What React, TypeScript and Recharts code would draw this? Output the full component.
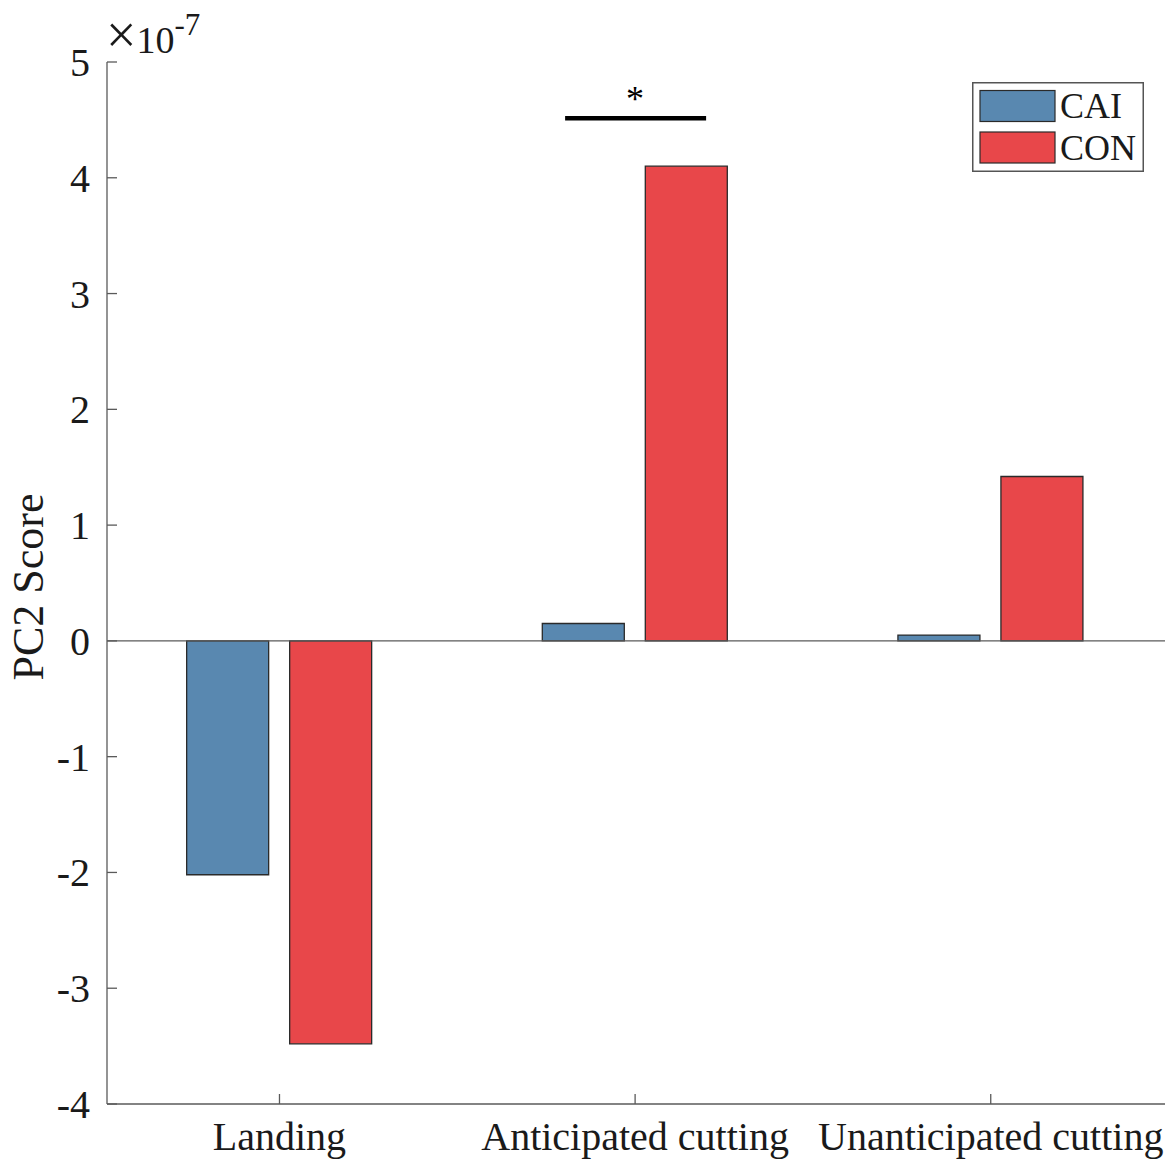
import React from 'react';
import { BarChart, Bar, XAxis, YAxis, ReferenceLine, ReferenceDot, Legend } from 'recharts';

const categories = ['Landing', 'Anticipated cutting', 'Unanticipated cutting'];
const categoryPositions = [1, 2, 3];
const caiValues = [-2.02, 0.15, 0.05];
const conValues = [-3.48, 4.1, 1.42];
const yTicks = [-4, -3, -2, -1, 0, 1, 2, 3, 4, 5];
const seriesNames = ['CAI', 'CON'];
const significance = { position: 2, y: 4.515, label: '*' };

const data = categories.map((c, i) => ({
  pos: categoryPositions[i],
  name: c,
  CAI: caiValues[i],
  CON: conValues[i],
}));

const FONT = "'Times New Roman', 'Liberation Serif', serif";
const AXIS = '#5a5a5a';
const TEXT = '#1a1a1a';
const BLUE = '#5988B0';
const RED = '#E8474A';
const BAR_STROKE = '#2a2a2a';

const YTick = (props: any) => {
  const { x, y, payload } = props;
  return (
    <g>
      <line x1={x} x2={x + 10} y1={y} y2={y} stroke={AXIS} strokeWidth={1.3} />
      <text x={x - 17} y={y} dy="0.35em" textAnchor="end" fontSize={40} fontFamily={FONT} fill={TEXT}>
        {payload.value}
      </text>
      {payload.value === yTicks[yTicks.length - 1] && (
        <text x={x - 1} y={y - 9} fontFamily={FONT} fill={TEXT}>
          <tspan fontSize={54}>×</tspan>
          <tspan fontSize={38}>10</tspan>
          <tspan fontSize={31} dy={-18}>-7</tspan>
        </text>
      )}
    </g>
  );
};

const XTick = (props: any) => {
  const { x, y, payload } = props;
  const idx = categoryPositions.indexOf(payload.value);
  return (
    <g>
      <line x1={x} x2={x} y1={y} y2={y - 10} stroke={AXIS} strokeWidth={1.3} />
      <text x={x} y={y + 46} textAnchor="middle" fontSize={40} fontFamily={FONT} fill={TEXT}>
        {categories[idx]}
      </text>
    </g>
  );
};

const SigShape = (p: any) => {
  const { cx, cy } = p;
  return (
    <g>
      <line x1={cx - 70} x2={cx + 71} y1={cy} y2={cy} stroke="#000" strokeWidth={4.5} />
      <text x={cx} y={cy - 7} textAnchor="middle" fontSize={36} fontFamily={FONT} fill="#000">
        {significance.label}
      </text>
    </g>
  );
};

const LegendContent = (props: any) => {
  const payload = props.payload || [];
  return (
    <svg width={172} height={90} style={{ display: 'block' }}>
      <rect x={0.75} y={0.75} width={170.5} height={88.5} fill="#fff" stroke="#555" strokeWidth={1.5} />
      {payload.map((item: any, i: number) => (
        <g key={item.value}>
          <rect x={8} y={8.5 + i * 41.5} width={75} height={31} fill={item.color} stroke={BAR_STROKE} strokeWidth={1.2} />
          <text x={88} y={36 + i * 42} fontSize={36} fontFamily={FONT} fill={TEXT}>
            {item.value}
          </text>
        </g>
      ))}
    </svg>
  );
};

const YLabel = (props: any) => {
  const vb = props.viewBox || { x: 0, y: 62, width: 107, height: 1042 };
  const cx = 28;
  const cy = vb.y + vb.height / 2 + 4;
  return (
    <text
      x={cx}
      y={cy}
      transform={`rotate(-90 ${cx} ${cy})`}
      textAnchor="middle"
      dominantBaseline="central"
      fontSize={44}
      fontFamily={FONT}
      fill={TEXT}
    >
      PC2 Score
    </text>
  );
};

export default function App() {
  return (
    <div style={{ position: 'absolute', left: 0, top: 0, width: 1168, height: 1162, background: '#fff' }}>
      <BarChart
        width={1168}
        height={1162}
        data={data}
        margin={{ top: 62, right: 3, left: 0, bottom: 0 }}
        barSize={82}
        barGap={21}
      >
        <XAxis
          dataKey="pos"
          type="number"
          domain={[0.515, 3.49]}
          ticks={categoryPositions}
          interval={0}
          height={58}
          tickSize={0}
          tickMargin={0}
          tickLine={false}
          axisLine={{ stroke: AXIS, strokeWidth: 1.3 }}
          tick={<XTick />}
          allowDataOverflow
        />
        <YAxis
          type="number"
          domain={[-4, 5]}
          ticks={yTicks}
          interval={0}
          width={107}
          tickSize={0}
          tickMargin={0}
          tickLine={false}
          axisLine={{ stroke: AXIS, strokeWidth: 1.3 }}
          tick={<YTick />}
          label={<YLabel />}
          allowDataOverflow
        />
        <ReferenceLine y={0} stroke={AXIS} strokeWidth={1.3} />
        <Bar dataKey="CAI" name={seriesNames[0]} fill={BLUE} stroke={BAR_STROKE} strokeWidth={1.3} isAnimationActive={false} />
        <Bar dataKey="CON" name={seriesNames[1]} fill={RED} stroke={BAR_STROKE} strokeWidth={1.3} isAnimationActive={false} />
        <ReferenceDot
          x={significance.position}
          y={significance.y}
          r={0}
          shape={SigShape}
          ifOverflow="visible"
        />
        <Legend
          layout="vertical"
          align="center"
          verticalAlign="middle"
          wrapperStyle={{ position: 'absolute', left: 972, top: 82, width: 172, height: 90 }}
          content={LegendContent}
        />
      </BarChart>
    </div>
  );
}
